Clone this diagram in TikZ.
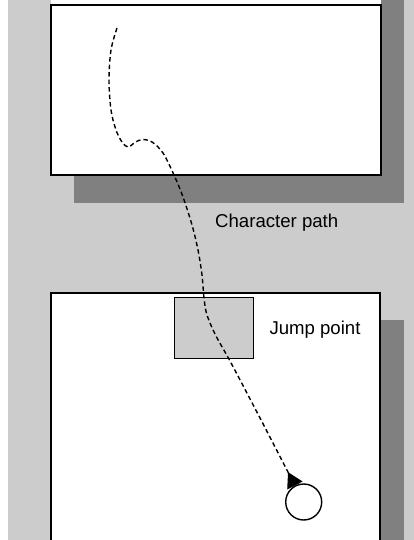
\documentclass[tikz,border=0pt]{standalone}
\usepackage{fontspec}
\setmainfont{Liberation Sans}
\usetikzlibrary{arrows.meta}
\definecolor{bglight}{HTML}{CCCCCC}
\definecolor{shadowgray}{HTML}{808080}
\tikzset{
  panel/.style={draw=black, fill=white, line width=1.4pt},
  shade/.style={fill=shadowgray, draw=none},
  jumpbox/.style={draw=black, fill=bglight, line width=1.3pt, rectangle, minimum width=79pt, minimum height=61.5pt, inner sep=0pt},
  charpath/.style={draw=black, line width=1.4pt, dash pattern=on 4.5pt off 3pt},
  charball/.style={draw=black, fill=white, circle, line width=1.4pt, minimum size=36pt, inner sep=0pt},
  lbl/.style={font=\fontsize{18.6}{20}\selectfont, inner sep=0pt, anchor=base west}
}
\begin{document}
\begin{tikzpicture}[x=1pt, y=-1pt]
  \clip (0,0) rectangle (414,540);
  % background
  \fill[white] (0,0) rectangle (414,540);
  \fill[bglight] (8,0) rectangle (414,540);
  % top panel with shadow
  \fill[shade] (74,0) rectangle (404,203);
  \fill[white] (51,0) rectangle (381,175);
  \draw[panel] (51,5) rectangle (381,175);
  % bottom panel with shadow
  \fill[shade] (380,320) rectangle (404,545);
  \draw[panel] (51,293) rectangle (380,560);
  % jump point box
  \node[jumpbox] (jump) at (213.7,328) {};
  % character
  \node[charball] (ball) at (303.7,502) {};
  \coordinate (pathstart) at (117,28);
  \coordinate (pathend) at (ball.118);
  % path
  \draw[charpath, -{Triangle[reversed, length=15pt, width=17pt]}]
    plot[smooth, tension=0.55] coordinates {
      (pathstart) (111,50) (109,80) (111,110) (116,130) (122,142) (128,147)
      (135,142.5) (142,139.5) (152,142) (163,153) (174,175) (183,197)
      (192,225) (198,250) (202,275) (204,298) (207,315) (216,336) (230,361)
      (260,418) (pathend)
    };
  % labels
  \node[lbl] (cpl) at (215,227.7) {Character path};
  \node[lbl] (jpl) at (269.3,334.3) {Jump point};
\end{tikzpicture}
\end{document}
